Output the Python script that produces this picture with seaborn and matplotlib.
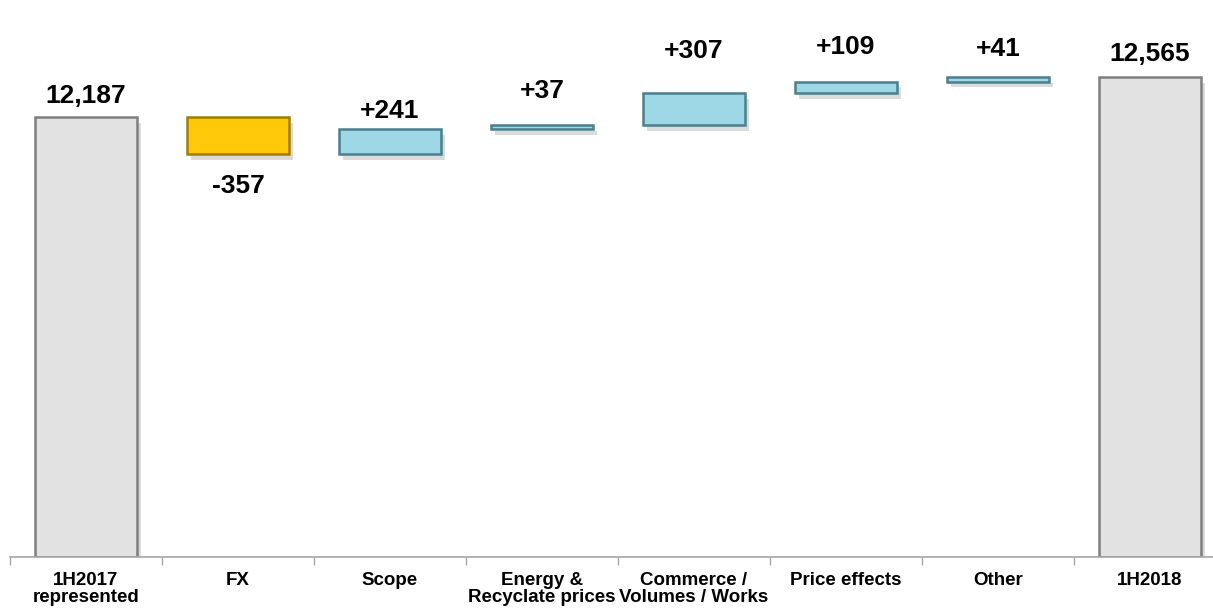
import numpy as np
import pandas as pd
import matplotlib
matplotlib.use("Agg")
import matplotlib.pyplot as plt
import matplotlib.patheffects as pe
import seaborn as sns

# ---- data ----
categories = ["1H2017\nrepresented", "FX", "Scope", "Energy &\nRecyclate prices",
              "Commerce /\nVolumes / Works", "Price effects", "Other", "1H2018"]
start_total = 12187
changes = [-357, 241, 37, 307, 109, 41]
end_total = 12565
value_labels = ["12,187", "-357", "+241", "+37", "+307", "+109", "+41", "12,565"]

# ---- derived waterfall geometry ----
axis_floor = 8000
cum = np.cumsum([start_total] + changes)
bottoms = [axis_floor] + [min(cum[i], cum[i + 1]) for i in range(len(changes))] + [axis_floor]
heights = [start_total - axis_floor] + [abs(c) for c in changes] + [end_total - axis_floor]
kinds = ["total"] + ["down" if c < 0 else "up" for c in changes] + ["total"]

face = {"total": "#E2E2E2", "down": "#FFC808", "up": "#9ED8E7"}
edge = {"total": "#7E7E7E", "down": "#A07E00", "up": "#4A7F8D"}

sns.set_theme(style="white")
plt.rcParams["font.family"] = ["Liberation Sans", "DejaVu Sans"]

fig = plt.figure(figsize=(12.13, 6.10), dpi=100)
ax = fig.add_axes([10 / 1213, 53 / 610, 1216 / 1213, 525.5 / 610])

df = pd.DataFrame({"cat": categories, "h": heights})
sns.barplot(data=df, x="cat", y="h", bottom=bottoms, width=0.67,
            color="#E2E2E2", ax=ax, zorder=2)

for p, k in zip(ax.patches, kinds):
    p.set_facecolor(face[k])
    p.set_edgecolor(edge[k])
    p.set_linewidth(1.8)
    p.set_path_effects([pe.SimplePatchShadow(offset=(3, -4), shadow_rgbFace="#b0b0b0", alpha=0.45),
                        pe.Normal()])

ax.set_ylim(axis_floor, 13000)
ax.set_xlim(-0.5, len(categories) - 0.5)

# value labels (pixel offsets from bar edge)
label_gap = [9, 20, 6, 22, 30, 23, 16, 11]
for i, (p, k, txt) in enumerate(zip(ax.patches, kinds, value_labels)):
    xc = p.get_x() + p.get_width() / 2
    if k == "down":
        ax.annotate(txt, (xc, p.get_y()), xytext=(0, -label_gap[i]),
                    textcoords="offset pixels", ha="center", va="top",
                    fontsize=19, fontweight="bold", color="black")
    else:
        ax.annotate(txt, (xc, p.get_y() + p.get_height()), xytext=(0, label_gap[i]),
                    textcoords="offset pixels", ha="center", va="bottom",
                    fontsize=19, fontweight="bold", color="black")

# axes styling
for s in ["top", "left", "right"]:
    ax.spines[s].set_visible(False)
ax.spines["bottom"].set_color("#A6A6A6")
ax.spines["bottom"].set_linewidth(1.2)
ax.set_yticks([])
ax.set_xlabel("")
ax.set_ylabel("")
ax.set_xticks(range(len(categories)))
ax.set_xticklabels(categories, fontsize=13.5, fontweight="bold", linespacing=1.0, color="black")
ax.tick_params(axis="x", which="major", length=0, pad=11, bottom=False)
ax.set_xticks(np.arange(-0.5, len(categories), 1.0), minor=True)
ax.tick_params(axis="x", which="minor", bottom=True, length=6, width=1.0,
               color="#A6A6A6", direction="out")
ax.grid(False)

fig.savefig("out.png", dpi=100)
